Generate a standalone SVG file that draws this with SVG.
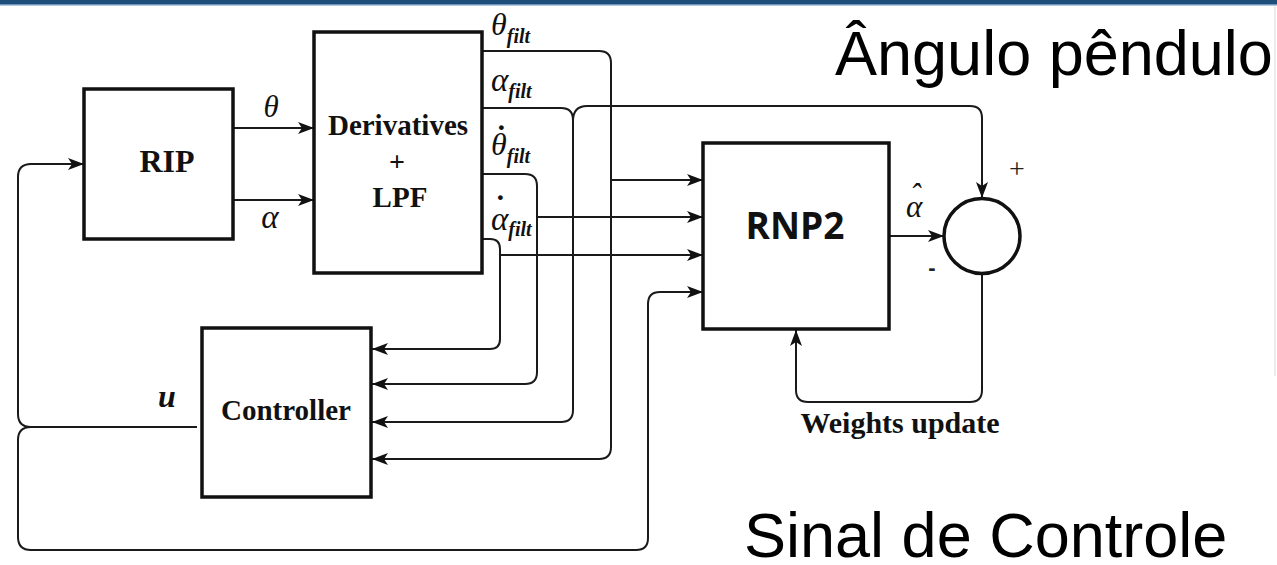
<svg xmlns="http://www.w3.org/2000/svg" width="1277" height="565" viewBox="0 0 1277 565">
  <defs>
    <marker id="arrow" markerUnits="userSpaceOnUse" markerWidth="18" markerHeight="14" viewBox="0 0 18 14" refX="17" refY="7" orient="auto">
      <path d="M1,1 L17,7 L1,13 L5,7 z" fill="#111"/>
    </marker>
    <style>
      .box { fill: #fff; stroke: #111; stroke-width: 3.5; }
      .wire { fill: none; stroke: #1a1a1a; stroke-width: 2; }
      .arr { marker-end: url(#arrow); }
      .blk { font-family: "Liberation Serif", "Times New Roman", serif; font-weight: bold; fill: #111; }
      .mth { font-family: "Liberation Serif", "Times New Roman", serif; font-style: italic; fill: #111; }
      .sub { font-size: 20px; font-weight: bold; }
      .dot { font-weight: bold; font-style: normal; font-size: 32px; }
      .big { font-family: "Liberation Sans", Arial, sans-serif; font-size: 63px; fill: #000; }
    </style>
  </defs>

  <!-- page header rule -->
  <rect x="0" y="0" width="1277" height="4" fill="#1f4d7a"/>
  <rect x="0" y="4" width="1277" height="1.5" fill="#6f93bf"/>
  <line x1="1275" y1="6" x2="1275" y2="376" stroke="#ececec" stroke-width="2"/>

  <!-- connectors -->
  <g id="connectors">
    <path class="wire arr" d="M233 128 H314"/>
    <path class="wire arr" d="M233 200 H314"/>
    <!-- theta_filt -->
    <path class="wire arr" d="M482 51 H599 Q611 51 611 63 V447 Q611 459 599 459 H372"/>
    <path class="wire arr" d="M611 180 H703"/>
    <!-- alpha_filt -->
    <path class="wire arr" d="M482 108 H561 Q573 108 573 120 V410 Q573 422 561 422 H372"/>
    <path class="wire arr" d="M573 121 Q573 106 587 106 H970 Q982 106 982 118 V198"/>
    <!-- theta_dot_filt -->
    <path class="wire arr" d="M482 174 H525 Q537 174 537 186 V372 Q537 384 525 384 H372"/>
    <path class="wire arr" d="M537 217 H703"/>
    <!-- alpha_dot_filt -->
    <path class="wire arr" d="M482 239 H490 Q500 239 500 249 V339 Q500 349 490 349 H372"/>
    <path class="wire arr" d="M500 255 H703"/>
    <!-- control signal u -->
    <path class="wire arr" d="M197 427 H31 Q18 427 18 414 V177 Q18 164 31 164 H84"/>
    <path class="wire arr" d="M31 427 Q18 427 18 440 V537 Q18 550 31 550 H636 Q648 550 648 538 V304 Q648 292 660 292 H703"/>
    <!-- estimate to summing junction -->
    <path class="wire arr" d="M889 236 H944"/>
    <!-- weights update -->
    <path class="wire arr" d="M982 274 V390 Q982 402 970 402 H808 Q796 402 796 390 V330"/>
  </g>

  <g id="rip">
    <rect class="box" x="84" y="89" width="149" height="150"/>
    <text class="blk" x="167" y="172" font-size="32" text-anchor="middle">RIP</text>
  </g>

  <g id="derivatives-lpf">
    <rect class="box" x="314" y="32" width="168" height="241"/>
    <text class="blk" x="398" y="135" font-size="29" text-anchor="middle">Derivatives</text>
    <text class="blk" x="397" y="171" font-size="28" text-anchor="middle">+</text>
    <text class="blk" x="400" y="207" font-size="29" text-anchor="middle">LPF</text>
  </g>

  <g id="controller">
    <rect class="box" x="202" y="328" width="169" height="169"/>
    <text class="blk" x="286" y="420" font-size="29" text-anchor="middle">Controller</text>
  </g>

  <g id="rnp2">
    <rect class="box" x="703" y="143" width="186" height="186"/>
    <text x="795" y="239" font-family="'Open Sans', 'Liberation Sans', sans-serif" font-weight="bold" font-size="37" text-anchor="middle" fill="#111">RNP2</text>
  </g>

  <g id="sum">
    <ellipse class="box" cx="982" cy="236" rx="38" ry="37.5"/>
    <text x="1017" y="178" font-family="'Liberation Serif', serif" font-size="28" text-anchor="middle" fill="#222">+</text>
    <text x="932" y="275" font-family="'Liberation Sans', sans-serif" font-weight="bold" font-size="22" text-anchor="middle" fill="#222">-</text>
  </g>

  <!-- signal labels -->
  <g id="labels">
    <text class="mth" x="271" y="117" font-size="31" text-anchor="middle">θ</text>
    <text class="mth" x="270" y="228" font-size="33" text-anchor="middle">α</text>

    <text class="mth" x="491" y="35" font-size="32">θ<tspan class="sub" dy="8">filt</tspan></text>
    <text class="mth" x="491" y="91" font-size="33">α<tspan class="sub" dy="7">filt</tspan></text>
    <text class="mth" font-size="32"><tspan class="dot" x="496" y="147">˙</tspan><tspan x="491" y="155">θ</tspan><tspan class="sub" dy="8">filt</tspan></text>
    <text class="mth" font-size="33"><tspan class="dot" x="495" y="217">˙</tspan><tspan x="491" y="230">α</tspan><tspan class="sub" dy="6">filt</tspan></text>

    <text class="mth" font-size="31"><tspan x="910" y="205">ˆ</tspan><tspan x="906" y="217">α</tspan></text>
    <text class="mth" x="167" y="407" font-size="32" font-weight="bold" text-anchor="middle">u</text>
    <text class="blk" x="900" y="433" font-size="30" text-anchor="middle">Weights update</text>
  </g>

  <text class="big" x="835" y="75">Ângulo pêndulo</text>
  <text class="big" x="744" y="557">Sinal de Controle</text>
</svg>
